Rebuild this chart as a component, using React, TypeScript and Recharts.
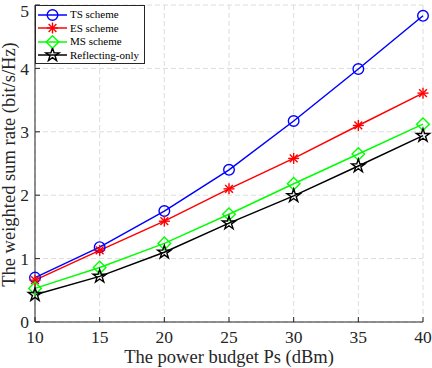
import React from 'react';
import { LineChart, Line, XAxis, YAxis, CartesianGrid, Legend, Label } from 'recharts';

const powerBudget = [10, 15, 20, 25, 30, 35, 40];
const tsScheme = [0.70, 1.18, 1.75, 2.40, 3.17, 3.99, 4.83];
const esScheme = [0.66, 1.13, 1.59, 2.10, 2.58, 3.10, 3.61];
const msScheme = [0.53, 0.86, 1.24, 1.70, 2.18, 2.65, 3.12];
const reflectingOnly = [0.43, 0.72, 1.10, 1.56, 1.99, 2.46, 2.94];

const xTicks = [10, 15, 20, 25, 30, 35, 40];
const yTicks = [0, 1, 2, 3, 4, 5];

const seriesInfo = [
  { key: 'ts', name: 'TS scheme', color: '#0000ff', kind: 'circle' },
  { key: 'es', name: 'ES scheme', color: '#ff0000', kind: 'asterisk' },
  { key: 'ms', name: 'MS scheme', color: '#00ff00', kind: 'diamond' },
  { key: 'ro', name: 'Reflecting-only', color: '#000000', kind: 'star' },
];

const data = powerBudget.map((p, i) => ({
  p,
  ts: tsScheme[i],
  es: esScheme[i],
  ms: msScheme[i],
  ro: reflectingOnly[i],
}));

const FONT = '"Liberation Serif", "Times New Roman", serif';
const AXIS = '#262626';

function markerShape(kind: string, color: string, cx: number, cy: number, key?: string) {
  const sw = 1.4;
  if (kind === 'circle') {
    return <circle key={key} cx={cx} cy={cy} r={5.3} fill="none" stroke={color} strokeWidth={sw} />;
  }
  if (kind === 'asterisk') {
    const r = 5.5;
    const d = r * 0.707;
    return (
      <g key={key} stroke={color} strokeWidth={sw}>
        <line x1={cx - r} y1={cy} x2={cx + r} y2={cy} />
        <line x1={cx} y1={cy - r} x2={cx} y2={cy + r} />
        <line x1={cx - d} y1={cy - d} x2={cx + d} y2={cy + d} />
        <line x1={cx - d} y1={cy + d} x2={cx + d} y2={cy - d} />
      </g>
    );
  }
  if (kind === 'diamond') {
    const r = 6.3;
    return (
      <polygon
        key={key}
        points={`${cx},${cy - r} ${cx + r},${cy} ${cx},${cy + r} ${cx - r},${cy}`}
        fill="none"
        stroke={color}
        strokeWidth={sw}
      />
    );
  }
  const R = 7;
  const rr = R * 0.382;
  const pts: string[] = [];
  for (let k = 0; k < 10; k++) {
    const ang = -Math.PI / 2 + (k * Math.PI) / 5;
    const rad = k % 2 === 0 ? R : rr;
    pts.push(`${cx + rad * Math.cos(ang)},${cy + rad * Math.sin(ang)}`);
  }
  return <polygon key={key} points={pts.join(' ')} fill="none" stroke={color} strokeWidth={sw} />;
}

const makeDot = (kind: string, color: string) => (props: any) => {
  const { cx, cy, index } = props;
  return markerShape(kind, color, cx, cy, `${kind}-${index}`);
};

const LegendBox = () => (
  <div
    style={{
      width: 110,
      boxSizing: 'border-box',
      border: `1px solid ${AXIS}`,
      background: '#fff',
      paddingTop: 2,
      paddingBottom: 1,
      fontFamily: FONT,
      fontSize: 11,
      color: '#000',
    }}
  >
    {seriesInfo.map((s) => (
      <div key={s.key} style={{ display: 'flex', alignItems: 'center', height: 13.5 }}>
        <svg width={33} height={14} style={{ display: 'block' }}>
          <line x1={2} y1={7} x2={31} y2={7} stroke={s.color} strokeWidth={1.5} />
          {markerShape(s.kind, s.color, 16.5, 7)}
        </svg>
        <span style={{ marginLeft: 1, whiteSpace: 'nowrap', lineHeight: '13.5px' }}>{s.name}</span>
      </div>
    ))}
  </div>
);

const YLabel = (props: any) => {
  const vb = props.viewBox || { x: 0, y: 5, width: 35, height: 317 };
  const cy = vb.y + vb.height / 2 + 1;
  const x = 15;
  return (
    <text
      x={x}
      y={cy}
      transform={`rotate(-90 ${x} ${cy})`}
      textAnchor="middle"
      fontFamily={FONT}
      fontSize={18.5}
      fill={AXIS}
    >
      The weighted sum rate (bit/s/Hz)
    </text>
  );
};

export default function App() {
  const tickStyle = { fontFamily: FONT, fontSize: 17.5, fill: AXIS };
  return (
    <div style={{ position: 'absolute', left: 0, top: 0 }}>
      <LineChart width={432} height={368} data={data} margin={{ top: 5, right: 9, left: 0, bottom: 0 }}>
        <CartesianGrid stroke="#dcdcdc" strokeDasharray="5 3" />
        <XAxis
          xAxisId={0}
          dataKey="p"
          type="number"
          domain={[10, 40]}
          ticks={xTicks}
          height={46}
          tickSize={-5}
          tickMargin={14}
          tick={tickStyle}
          stroke={AXIS}
          axisLine={{ stroke: AXIS }}
          tickLine={{ stroke: AXIS }}
        >
          <Label
            value="The power budget Ps (dBm)"
            position="insideBottom"
            offset={5}
            fontFamily={FONT}
            fontSize={18.5}
            fill={AXIS}
          />
        </XAxis>
        <XAxis
          xAxisId="top"
          orientation="top"
          dataKey="p"
          type="number"
          domain={[10, 40]}
          ticks={xTicks}
          height={0}
          tickSize={-5}
          tick={false}
          axisLine={{ stroke: AXIS }}
          tickLine={{ stroke: AXIS }}
        />
        <YAxis
          yAxisId={0}
          type="number"
          domain={[0, 5]}
          ticks={yTicks}
          width={35}
          tickSize={-5}
          tickMargin={11}
          tick={tickStyle}
          axisLine={{ stroke: AXIS }}
          tickLine={{ stroke: AXIS }}
        >
          <Label content={YLabel} />
        </YAxis>
        <YAxis
          yAxisId="right"
          orientation="right"
          type="number"
          domain={[0, 5]}
          ticks={yTicks}
          width={0}
          tickSize={-5}
          tick={false}
          axisLine={{ stroke: AXIS }}
          tickLine={{ stroke: AXIS }}
        />
        {seriesInfo.map((s) => (
          <Line
            key={s.key}
            xAxisId={0}
            yAxisId={0}
            dataKey={s.key}
            name={s.name}
            type="linear"
            stroke={s.color}
            strokeWidth={1.5}
            dot={makeDot(s.kind, s.color)}
            activeDot={false}
            isAnimationActive={false}
          />
        ))}
        <Legend
          layout="vertical"
          align="center"
          verticalAlign="middle"
          content={LegendBox}
          wrapperStyle={{ top: 5, left: 35, width: 110, height: 'auto' }}
        />
      </LineChart>
    </div>
  );
}
